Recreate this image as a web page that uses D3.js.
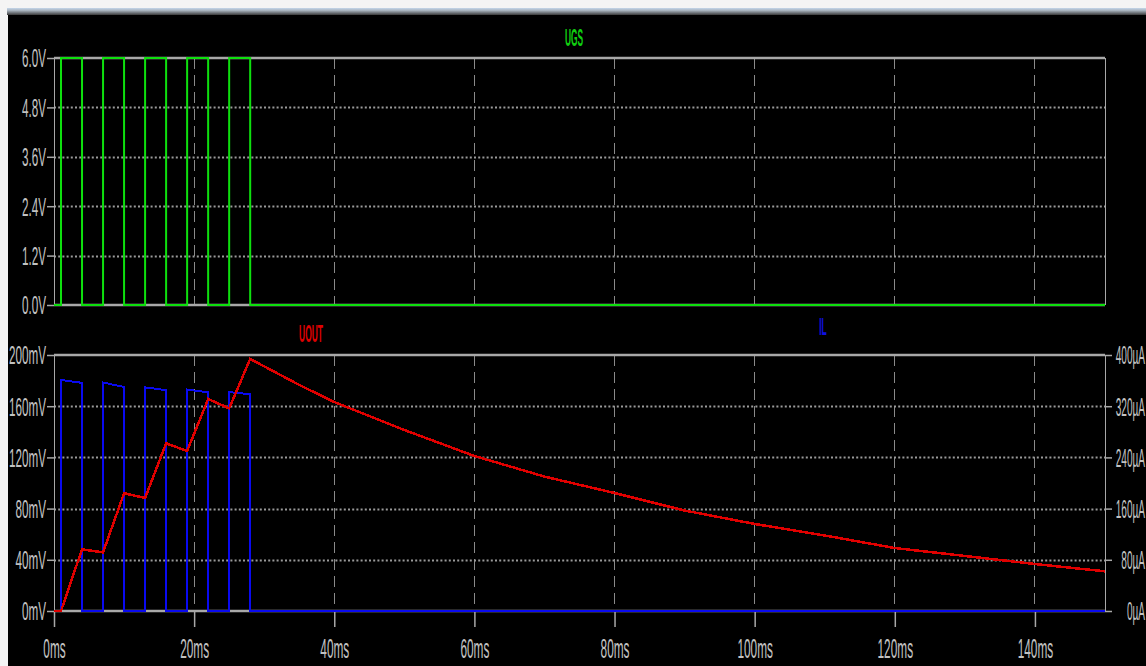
<!DOCTYPE html>
<html><head><meta charset="utf-8">
<script src="https://cdn.jsdelivr.net/npm/d3@7"></script>
<style>
html,body{margin:0;padding:0;background:#fff;overflow:hidden}
svg{display:block}
</style></head><body>
<svg id="chart" width="1146" height="666"></svg>
<script>
// Gate drive: on/off edges of each pulse (ms) and high level (V)
const pulseOn = [1, 7, 13, 19, 25];
const pulseOff = [4, 10, 16, 22, 28];
const ugsHigh = 6.0;

// Inductor current at the start and end of each on-phase (µA)
const ilStart = [361, 357, 349.5, 346, 342];
const ilEnd = [356.5, 350, 345, 341.7, 338.6];

// Output voltage samples: time (ms) and value (mV)
const uoutTime = [0, 1, 4, 7, 10, 13, 16, 19, 22, 25, 28, 35, 40, 50, 60, 70, 80, 90, 100, 110, 120, 130, 140, 150];
const uoutMv = [0, 0, 48.2, 45.8, 92, 88.3, 131, 125, 165.6, 158.3, 196.9, 176.6, 163.3, 141.4, 121.1, 105, 92.2, 78.5, 68, 59, 49.2, 43, 36.7, 31];

// Axis ticks
const timeTicks = [0, 20, 40, 60, 80, 100, 120, 140];
const ugsTicks = [0, 1.2, 2.4, 3.6, 4.8, 6.0];
const uoutTicks = [0, 40, 80, 120, 160, 200];
const ilTicks = [0, 80, 160, 240, 320, 400];

const tEnd = 150;

const svg = d3.select('#chart');
const W = 1146, H = 666;

// window frame
svg.append('rect').attr('width', W).attr('height', H).attr('fill', '#f4f4f4');
const grad = svg.append('defs').append('linearGradient').attr('id', 'bar').attr('x1', 0).attr('x2', 0).attr('y1', 0).attr('y2', 1);
grad.append('stop').attr('offset', '0%').attr('stop-color', '#c4d6ea');
grad.append('stop').attr('offset', '35%').attr('stop-color', '#a9b4bf');
grad.append('stop').attr('offset', '100%').attr('stop-color', '#3a3a3a');
svg.append('rect').attr('x', 7).attr('y', 8).attr('width', W - 7).attr('height', 7).attr('fill', 'url(#bar)');
svg.append('rect').attr('x', 8).attr('y', 15).attr('width', W - 8).attr('height', H - 15).attr('fill', '#000');

const x = d3.scaleLinear().domain([0, tEnd]).range([54, 1105]);
const yU = d3.scaleLinear().domain([0, 6]).range([305, 58]);
const yV = d3.scaleLinear().domain([0, 200]).range([611, 355]);
const yI = d3.scaleLinear().domain([0, 400]).range([611, 355]);

const GRAY = '#a8a8a8';
const TXT = '#c2c2c2';
const FONT = "'Liberation Sans', Arial, sans-serif";

function panel(y, ticks) {
  const g = svg.append('g');
  const [y0, y1] = y.range();
  // dashed vertical grid
  g.selectAll('.vg').data(timeTicks.filter(d => d > 0)).join('line')
    .attr('x1', d => x(d)).attr('x2', d => x(d))
    .attr('y1', y1).attr('y2', y0)
    .attr('stroke', '#8a8a8a').attr('stroke-width', 1).attr('stroke-dasharray', '11,6')
    .attr('shape-rendering', 'crispEdges');
  // dotted horizontal grid
  g.selectAll('.hg').data(ticks.slice(1, -1)).join('line')
    .attr('x1', x(0)).attr('x2', x(tEnd))
    .attr('y1', d => Math.round(y(d)) + 0.5).attr('y2', d => Math.round(y(d)) + 0.5)
    .attr('stroke', '#9a9a9a').attr('stroke-width', 2).attr('stroke-dasharray', '2,2.2');
  // frame
  g.append('line').attr('x1', x(0)).attr('x2', x(tEnd)).attr('y1', y1).attr('y2', y1)
    .attr('stroke', GRAY).attr('stroke-width', 2.5);
  g.append('line').attr('x1', x(0)).attr('x2', x(tEnd)).attr('y1', y0).attr('y2', y0)
    .attr('stroke', GRAY).attr('stroke-width', 2.5);
  g.append('line').attr('x1', x(0) + 0.5).attr('x2', x(0) + 0.5).attr('y1', y1).attr('y2', y0)
    .attr('stroke', GRAY).attr('stroke-width', 1);
  g.append('line').attr('x1', x(tEnd) + 0.5).attr('x2', x(tEnd) + 0.5).attr('y1', y1).attr('y2', y0)
    .attr('stroke', GRAY).attr('stroke-width', 1);
}
panel(yU, ugsTicks);
panel(yV, uoutTicks);

function styleAxis(g, textTransform, anchor) {
  g.select('.domain').remove();
  g.selectAll('.tick line').attr('stroke', GRAY).attr('stroke-width', 1.5);
  g.selectAll('.tick text')
    .attr('x', 0).attr('y', 0).attr('dy', '0.36em')
    .attr('text-anchor', anchor)
    .attr('transform', textTransform)
    .attr('fill', TXT)
    .style('font-family', FONT).style('font-size', '16px');
}

const axU = svg.append('g').attr('transform', 'translate(54,0)')
  .call(d3.axisLeft(yU).tickValues(ugsTicks).tickSize(7).tickFormat(d => d.toFixed(1) + 'V'));
styleAxis(axU, 'translate(-8,0) scale(0.73,1.56)', 'end');

const axV = svg.append('g').attr('transform', 'translate(54,0)')
  .call(d3.axisLeft(yV).tickValues(uoutTicks).tickSize(7).tickFormat(d => d + 'mV'));
styleAxis(axV, 'translate(-8,0) scale(0.73,1.56)', 'end');

const axI = svg.append('g').attr('transform', 'translate(1105,0)')
  .call(d3.axisRight(yI).tickValues(ilTicks).tickSize(7).tickFormat(d => d + 'µA'));
styleAxis(axI, 'translate(40,0) scale(0.63,1.56)', 'end');

const axT = svg.append('g').attr('transform', 'translate(0,611)')
  .call(d3.axisBottom(x).tickValues(timeTicks).tickSize(16).tickFormat(d => d + 'ms'));
styleAxis(axT, 'translate(0,37) scale(0.74,1.7)', 'middle');

// traces
const ugsPts = [[0, 0]];
pulseOn.forEach((on, i) => {
  ugsPts.push([on, 0], [on, ugsHigh], [pulseOff[i], ugsHigh], [pulseOff[i], 0]);
});
ugsPts.push([tEnd, 0]);

const ilPts = [[0, 0]];
pulseOn.forEach((on, i) => {
  ilPts.push([on, 0], [on, ilStart[i]], [pulseOff[i], ilEnd[i]], [pulseOff[i], 0]);
});
ilPts.push([tEnd, 0]);

const uoutPts = uoutTime.map((t, i) => [t, uoutMv[i]]);

svg.append('path').datum(ugsPts)
  .attr('d', d3.line().x(d => x(d[0])).y(d => yU(d[1])))
  .attr('fill', 'none').attr('stroke', '#0ee00e').attr('stroke-width', 2);

svg.append('path').datum(ilPts)
  .attr('d', d3.line().x(d => x(d[0])).y(d => yI(d[1])))
  .attr('fill', 'none').attr('stroke', '#0a0af0').attr('stroke-width', 2)
  .attr('shape-rendering', 'crispEdges');

svg.append('path').datum(uoutPts)
  .attr('d', d3.line().x(d => x(d[0])).y(d => yV(d[1])))
  .attr('fill', 'none').attr('stroke', '#e00000').attr('stroke-width', 2.5)
  .attr('shape-rendering', 'crispEdges');

// trace names
function title(txt, cx, cy, color) {
  svg.append('text').text(txt)
    .attr('transform', `translate(${cx},${cy}) scale(0.6,1.7)`)
    .attr('text-anchor', 'middle').attr('dy', '0.36em')
    .attr('fill', color)
    .style('font-family', FONT).style('font-size', '14px').style('font-weight', 'bold');
}
title('UGS', 574, 37, '#10d010');
title('UOUT', 311, 333, '#e00000');
title('IL', 823, 326, '#1010e0');
</script>
</body></html>
